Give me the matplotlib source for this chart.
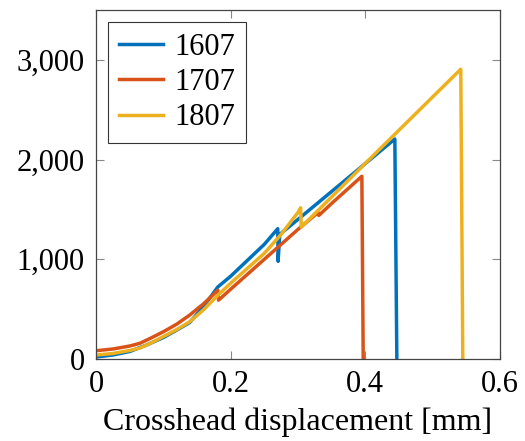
import matplotlib.pyplot as plt
from matplotlib.ticker import FuncFormatter

plt.rcParams['font.family'] = ['Liberation Serif', 'DejaVu Serif']

# displacement [mm] and force readings per specimen
x_1607 = [0.0, 0.025, 0.05, 0.075, 0.10, 0.12, 0.139, 0.16, 0.181, 0.20, 0.225, 0.25,
          0.270, 0.2705, 0.273, 0.30, 0.35, 0.40, 0.444, 0.447]
y_1607 = [20, 40, 75, 140, 215, 290, 365, 530, 723, 830, 990, 1150,
          1307, 980, 1250, 1400, 1680, 1960, 2207, 0]

x_1707 = [0.0, 0.025, 0.05, 0.065, 0.08, 0.10, 0.12, 0.139, 0.16, 0.181, 0.182,
          0.20, 0.25, 0.30, 0.33, 0.331, 0.35, 0.395, 0.397]
y_1707 = [83, 100, 130, 157, 205, 273, 350, 440, 555, 690, 590,
          700, 1000, 1300, 1470, 1440, 1560, 1833, 0]

x_1807 = [0.0, 0.025, 0.05, 0.065, 0.08, 0.10, 0.12, 0.139, 0.16, 0.181, 0.20,
          0.225, 0.25, 0.275, 0.30, 0.304, 0.305, 0.40, 0.542, 0.545]
y_1807 = [40, 55, 85, 110, 155, 225, 295, 373, 495, 640, 760,
          910, 1060, 1250, 1470, 1517, 1323, 1962, 2907, 0]

fig = plt.figure(figsize=(5.25, 4.41), dpi=100)
ax = fig.add_axes([0.183, 0.186, 0.769, 0.791])

ax.plot(x_1607, y_1607, color='#0072BD', lw=2.5, label='1607')
ax.plot(x_1707, y_1707, color='#D95319', lw=2.5, label='1707')
ax.plot(x_1807, y_1807, color='#EDB120', lw=2.5, label='1807')

ax.set_xlim(0, 0.6)
ax.set_ylim(0, 3500)
ax.set_xticks([0, 0.2, 0.4, 0.6])
ax.set_xticklabels(['0', '0.2', '0.4', '0.6'])
ax.set_yticks([0, 1000, 2000, 3000])
ax.yaxis.set_major_formatter(FuncFormatter(lambda v, p: f'{int(v):,}'))
ax.tick_params(direction='in', length=6, width=0.8, color='#888888',
               top=True, right=True, labelsize=22, pad=8)
for s in ax.spines.values():
    s.set_color('#444444')
    s.set_linewidth(0.9)

ax.set_xlabel('Crosshead displacement [mm]', fontsize=23, labelpad=6)

leg = ax.legend(loc='upper left', fontsize=22, frameon=True, fancybox=False,
                edgecolor='black', handlelength=1.45, handletextpad=0.35,
                borderpad=0.35, labelspacing=0.2, borderaxespad=0.4)
leg.get_frame().set_linewidth(0.8)

fig.savefig('out.png', dpi=100)
